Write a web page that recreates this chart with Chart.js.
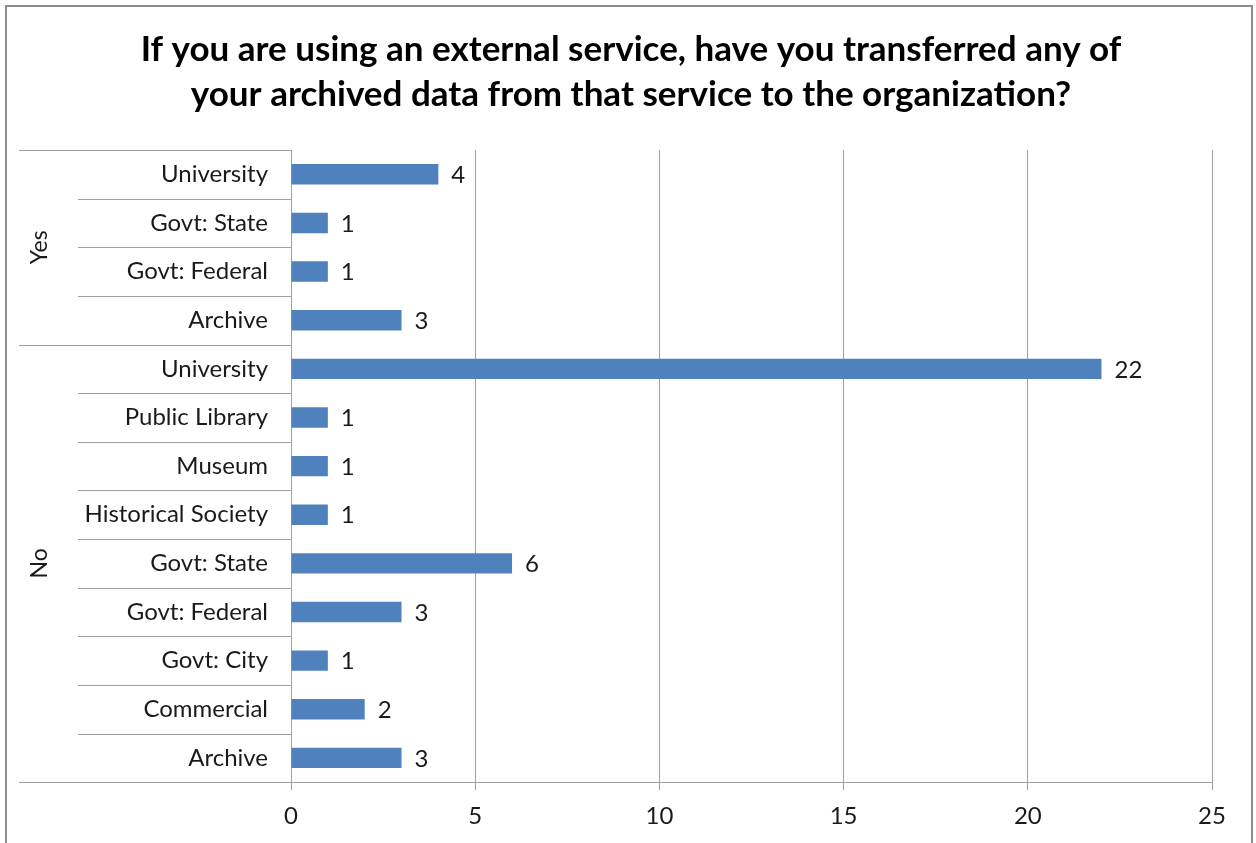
<!DOCTYPE html>
<html>
<head>
<meta charset="utf-8">
<script src="https://cdn.jsdelivr.net/npm/chart.js@4/dist/chart.umd.min.js"></script>
<style>
  html, body { margin: 0; padding: 0; background: #fff; }
  #wrap { position: relative; width: 1256px; height: 843px; }
</style>
</head>
<body>
<div id="wrap"><canvas id="canvas"></canvas></div>
<script>
// answers grouped by "have you transferred data back?"
const groupNames = ['Yes', 'No'];
const yesLabels = ['University', 'Govt: State', 'Govt: Federal', 'Archive'];
const yesValues = [4, 1, 1, 3];
const noLabels = ['University', 'Public Library', 'Museum', 'Historical Society', 'Govt: State',
  'Govt: Federal', 'Govt: City', 'Commercial', 'Archive'];
const noValues = [22, 1, 1, 1, 6, 3, 1, 2, 3];
const xMax = 25;
const xStep = 5;
const titleLines = ['If you are using an external service, have you transferred any of',
  'your archived data from that service to the organization?'];

const labels = yesLabels.concat(noLabels);
const values = yesValues.concat(noValues);
const groupSizes = [yesLabels.length, noLabels.length];

const lineColor = '#a0a0a0';
const textColor = '#1a1a1a';
const font = 'Lato';
const axisLeft = 19;

// outer frame + title, centred on the whole canvas
const framePlugin = {
  id: 'frame',
  beforeDraw(chart) {
    const ctx = chart.ctx;
    ctx.save();
    ctx.fillStyle = '#fff';
    ctx.fillRect(0, 0, chart.width, chart.height);
    ctx.strokeStyle = '#8c8c8c';
    ctx.lineWidth = 2;
    ctx.strokeRect(6, 6, chart.width - 10, chart.height + 20);
    ctx.fillStyle = '#000';
    ctx.font = 'bold 35px ' + font;
    ctx.textAlign = 'center';
    ctx.textBaseline = 'middle';
    titleLines.forEach(function (line, i) {
      ctx.fillText(line, chart.width / 2 + 3, 50 + i * 45);
    });
    ctx.restore();
  }
};

// row separators + group labels on the category axis
const groupAxisPlugin = {
  id: 'groupAxis',
  afterDraw(chart) {
    const ctx = chart.ctx;
    const y = chart.scales.y;
    const x = chart.scales.x;
    const axisX = x.left;
    const n = labels.length;
    const rowEdge = function (i) {
      if (i <= 0) return y.top;
      if (i >= n) return y.bottom;
      return (y.getPixelForTick(i - 1) + y.getPixelForTick(i)) / 2;
    };
    ctx.save();
    ctx.strokeStyle = lineColor;
    ctx.lineWidth = 1;
    let start = 0;
    const groupEdges = [0];
    groupSizes.forEach(function (s) { start += s; groupEdges.push(start); });
    for (let i = 0; i <= n; i++) {
      const yy = Math.round(rowEdge(i)) + 0.5;
      const isGroup = groupEdges.indexOf(i) >= 0;
      ctx.beginPath();
      ctx.moveTo(isGroup ? axisLeft : 78, yy);
      ctx.lineTo(axisX, yy);
      ctx.stroke();
    }
    // rotated group names
    ctx.fillStyle = textColor;
    ctx.font = '23px ' + font;
    ctx.textAlign = 'center';
    ctx.textBaseline = 'middle';
    for (let g = 0; g < groupNames.length; g++) {
      const cy = (rowEdge(groupEdges[g]) + rowEdge(groupEdges[g + 1])) / 2;
      ctx.save();
      ctx.translate(40, cy);
      ctx.rotate(-Math.PI / 2);
      ctx.fillText(groupNames[g], 0, 0);
      ctx.restore();
    }
    ctx.restore();
  }
};

// value labels at the end of each bar
const valueLabelPlugin = {
  id: 'valueLabels',
  afterDatasetsDraw(chart) {
    const ctx = chart.ctx;
    const meta = chart.getDatasetMeta(0);
    ctx.save();
    ctx.fillStyle = textColor;
    ctx.font = '24px ' + font;
    ctx.textAlign = 'left';
    ctx.textBaseline = 'middle';
    meta.data.forEach(function (bar, i) {
      ctx.fillText(String(values[i]), bar.x + 13, bar.y + 1);
    });
    ctx.restore();
  }
};

const canvas = document.getElementById('canvas');
const chart = new Chart(canvas, {
  type: 'bar',
  data: {
    labels: labels,
    datasets: [{
      data: values,
      backgroundColor: '#4f81bd',
      borderWidth: 0,
      categoryPercentage: 1,
      barPercentage: 0.42
    }]
  },
  options: {
    indexAxis: 'y',
    responsive: true,
    maintainAspectRatio: false,
    animation: false,
    layout: { padding: { left: axisLeft, right: 44, top: 150, bottom: 0 } },
    plugins: {
      legend: { display: false },
      tooltip: { enabled: false },
      title: { display: false }
    },
    scales: {
      x: {
        min: 0,
        max: xMax,
        ticks: { stepSize: xStep, color: textColor, font: { family: font, size: 24 }, padding: 12 },
        grid: { color: lineColor, tickLength: 8, lineWidth: 1 },
        border: { color: lineColor }
      },
      y: {
        afterFit: function (scale) { scale.width = 272; },
        ticks: { color: textColor, font: { family: font, size: 24 }, padding: 15, autoSkip: false },
        grid: { display: false },
        border: { display: true, color: lineColor }
      }
    }
  },
  plugins: [framePlugin, groupAxisPlugin, valueLabelPlugin]
});
</script>
</body>
</html>
